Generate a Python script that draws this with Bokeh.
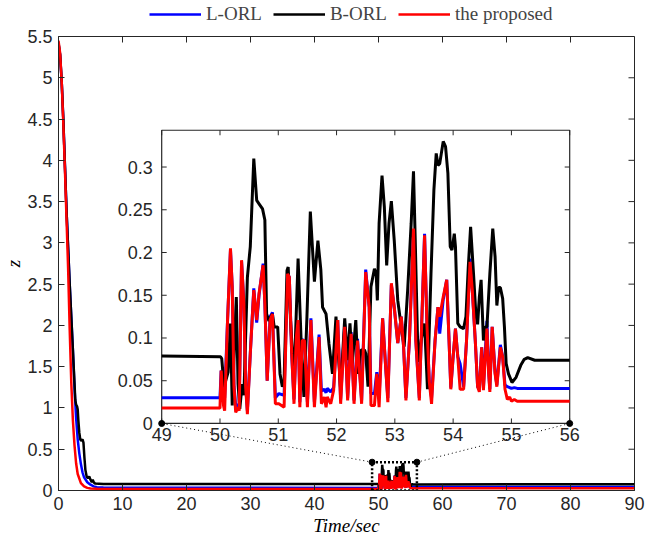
import numpy as np
from bokeh.plotting import figure
from bokeh.layouts import column
from bokeh.models import Range1d, FixedTicker, Legend, LegendItem
from bokeh.core.properties import value
from bokeh.embed import file_html
from bokeh.resources import INLINE

# ---------------- data ----------------
SERIES_LABELS = ["L-ORL", "B-ORL", "the proposed"]
SERIES_COLORS = ["#0000ff", "#000000", "#ff0000"]

X_TICKS = [0, 10, 20, 30, 40, 50, 60, 70, 80, 90]
X_TICK_LABELS = ["0", "10", "20", "30", "40", "50", "60", "70", "80", "90"]
Y_TICKS = [0, 0.5, 1, 1.5, 2, 2.5, 3, 3.5, 4, 4.5, 5, 5.5]
Y_TICK_LABELS = ["0", "0.5", "1", "1.5", "2", "2.5", "3", "3.5", "4", "4.5", "5", "5.5"]
INSET_X_TICKS = [49, 50, 51, 52, 53, 54, 55, 56]
INSET_X_TICK_LABELS = ["49", "50", "51", "52", "53", "54", "55", "56"]
INSET_Y_TICKS = [0, 0.05, 0.1, 0.15, 0.2, 0.25, 0.3]
INSET_Y_TICK_LABELS = ["0", "0.05", "0.1", "0.15", "0.2", "0.25", "0.3"]

# transient part (t < 7)
RED_T_TR = [0, 0.25, 0.5, 0.75, 1.0, 1.25, 1.5, 1.75, 2.0, 2.25, 2.5, 2.75, 3.0, 3.5, 4.0, 4.5, 5.0, 6.0]
RED_Z_TR = [5.45, 5.3, 4.95, 4.45, 3.9, 3.3, 2.7, 1.95, 1.3, 0.85, 0.55, 0.33, 0.2, 0.09, 0.05, 0.032, 0.024, 0.02]

BLUE_T_TR = [0, 0.25, 0.5, 0.75, 1.0, 1.25, 1.5, 1.75, 2.0, 2.25, 2.5, 2.75, 3.0, 3.25, 3.5, 3.75,
             4.0, 4.5, 5.0, 5.5, 6.0, 7.0]
BLUE_Z_TR = [5.42, 5.28, 4.95, 4.5, 3.95, 3.4, 2.95, 2.5, 2.1, 1.7, 1.25, 0.88, 0.62, 0.45, 0.32, 0.22,
             0.16, 0.1, 0.07, 0.05, 0.04, 0.035]

BLACK_T_TR = [0, 0.25, 0.5, 0.75, 1.0, 1.25, 1.5, 1.75, 2.0, 2.25, 2.5, 2.62, 2.75, 2.9, 3.0, 3.1,
              3.25, 3.4, 3.55, 3.75, 3.9, 4.05, 4.2, 4.4, 4.6, 4.8, 5.0, 5.2, 5.35, 5.5, 5.7, 7.0]
BLACK_Z_TR = [5.42, 5.28, 4.95, 4.5, 3.95, 3.4, 2.95, 2.5, 2.1, 1.7, 1.3, 1.1, 1.04, 1.02, 0.98, 0.85,
              0.7, 0.62, 0.6, 0.62, 0.58, 0.4, 0.25, 0.17, 0.15, 0.17, 0.13, 0.1, 0.13, 0.1, 0.085, 0.08]

# zoomed window 49..56 (red and blue share time stamps)
WIN_T = [49.00, 50.00, 50.02, 50.06, 50.08, 50.13, 50.18, 50.21, 50.24, 50.27, 50.31, 50.33, 50.37,
         50.41, 50.44, 50.47, 50.52, 50.58, 50.63, 50.67, 50.74, 50.77, 50.81, 50.86, 50.90, 50.95,
         51.01, 51.10, 51.16, 51.19, 51.23, 51.27, 51.31, 51.34, 51.37, 51.41, 51.45, 51.50, 51.56,
         51.62, 51.70, 51.74, 51.79, 51.82, 51.84, 51.90, 51.95, 52.02, 52.07, 52.14, 52.19, 52.25,
         52.30, 52.36, 52.43, 52.50, 52.56, 52.59, 52.65, 52.69, 52.73, 52.79, 52.85, 52.88, 52.94,
         52.99, 53.05, 53.11, 53.15, 53.19, 53.25, 53.32, 53.36, 53.42, 53.47, 53.51, 53.55, 53.59,
         53.63, 53.69, 53.74, 53.77, 53.83, 53.89, 53.93, 53.96, 54.00, 54.04, 54.08, 54.12, 54.18,
         54.23, 54.29, 54.33, 54.38, 54.42, 54.45, 54.49, 54.52, 54.58, 54.61, 54.63, 54.67, 54.72,
         54.75, 54.81, 54.85, 54.89, 54.93, 54.97, 55.00, 55.05, 55.10, 56.00]
RED_Z_WIN = [0.018, 0.018, 0.062, 0.021, 0.015, 0.121, 0.205, 0.160, 0.043, 0.013, 0.019, 0.015, 0.191,
             0.140, 0.043, 0.011, 0.082, 0.156, 0.121, 0.152, 0.185, 0.140, 0.050, 0.121, 0.128, 0.023,
             0.023, 0.019, 0.175, 0.171, 0.082, 0.023, 0.101, 0.121, 0.019, 0.097, 0.097, 0.019, 0.121,
             0.019, 0.101, 0.023, 0.031, 0.019, 0.031, 0.023, 0.039, 0.121, 0.023, 0.113, 0.027, 0.105,
             0.023, 0.097, 0.023, 0.177, 0.136, 0.021, 0.021, 0.058, 0.019, 0.123, 0.058, 0.025, 0.164,
             0.136, 0.094, 0.125, 0.090, 0.027, 0.097, 0.228, 0.097, 0.027, 0.136, 0.220, 0.117, 0.050,
             0.023, 0.097, 0.136, 0.125, 0.148, 0.168, 0.097, 0.040, 0.078, 0.111, 0.078, 0.040, 0.040,
             0.097, 0.189, 0.155, 0.097, 0.043, 0.037, 0.089, 0.039, 0.111, 0.058, 0.037, 0.113, 0.058,
             0.043, 0.089, 0.078, 0.040, 0.028, 0.031, 0.026, 0.028, 0.026, 0.026]
BLUE_Z_WIN = [0.030, 0.030, 0.062, 0.031, 0.030, 0.121, 0.203, 0.160, 0.045, 0.020, 0.022, 0.020, 0.190,
              0.140, 0.045, 0.015, 0.082, 0.158, 0.118, 0.150, 0.187, 0.140, 0.050, 0.125, 0.130, 0.030,
              0.035, 0.033, 0.175, 0.171, 0.082, 0.028, 0.100, 0.121, 0.025, 0.098, 0.097, 0.025, 0.123,
              0.025, 0.104, 0.038, 0.040, 0.036, 0.041, 0.037, 0.042, 0.121, 0.028, 0.116, 0.030, 0.107,
              0.027, 0.099, 0.027, 0.180, 0.136, 0.035, 0.035, 0.060, 0.030, 0.123, 0.058, 0.030, 0.162,
              0.136, 0.094, 0.125, 0.090, 0.030, 0.097, 0.226, 0.097, 0.030, 0.136, 0.222, 0.117, 0.050,
              0.030, 0.097, 0.136, 0.105, 0.145, 0.168, 0.097, 0.042, 0.078, 0.111, 0.078, 0.070, 0.043,
              0.097, 0.193, 0.155, 0.097, 0.043, 0.040, 0.089, 0.042, 0.120, 0.060, 0.040, 0.113, 0.060,
              0.045, 0.092, 0.078, 0.045, 0.043, 0.042, 0.041, 0.042, 0.041, 0.041]

BLACK_T_WIN = [49.00, 50.01, 50.03, 50.07, 50.14, 50.18, 50.21, 50.28, 50.31, 50.34, 50.38, 50.41, 50.47,
               50.52, 50.58, 50.63, 50.67, 50.73, 50.77, 50.80, 50.84, 50.90, 50.93, 50.99, 51.03, 51.07,
               51.10, 51.15, 51.17, 51.21, 51.27, 51.34, 51.40, 51.44, 51.49, 51.55, 51.62, 51.68, 51.73,
               51.76, 51.82, 51.87, 51.93, 51.99, 52.03, 52.07, 52.14, 52.19, 52.23, 52.27, 52.33, 52.37,
               52.42, 52.48, 52.50, 52.54, 52.59, 52.65, 52.68, 52.70, 52.73, 52.78, 52.82, 52.86, 52.90,
               52.94, 52.99, 53.05, 53.11, 53.16, 53.22, 53.28, 53.32, 53.35, 53.39, 53.42, 53.45, 53.51,
               53.56, 53.62, 53.67, 53.71, 53.74, 53.77, 53.83, 53.87, 53.91, 53.95, 53.98, 54.02, 54.04,
               54.08, 54.12, 54.18, 54.22, 54.26, 54.30, 54.35, 54.39, 54.42, 54.45, 54.48, 54.52, 54.55,
               54.58, 54.63, 54.68, 54.72, 54.75, 54.78, 54.81, 54.85, 54.88, 54.91, 54.95, 55.01, 55.08,
               55.16, 55.22, 55.28, 55.40, 56.00]
BLACK_Z_WIN = [0.079, 0.078, 0.076, 0.043, 0.060, 0.117, 0.021, 0.148, 0.046, 0.017, 0.046, 0.033, 0.171,
               0.207, 0.310, 0.261, 0.257, 0.251, 0.238, 0.128, 0.120, 0.128, 0.113, 0.113, 0.058, 0.043,
               0.050, 0.179, 0.183, 0.121, 0.050, 0.193, 0.082, 0.031, 0.121, 0.248, 0.166, 0.214, 0.180,
               0.136, 0.128, 0.093, 0.058, 0.125, 0.082, 0.039, 0.123, 0.074, 0.117, 0.070, 0.121, 0.058,
               0.086, 0.086, 0.082, 0.043, 0.160, 0.181, 0.175, 0.144, 0.234, 0.290, 0.253, 0.185, 0.234,
               0.260, 0.214, 0.144, 0.113, 0.090, 0.156, 0.234, 0.295, 0.214, 0.097, 0.072, 0.097, 0.117,
               0.040, 0.175, 0.273, 0.316, 0.302, 0.304, 0.330, 0.324, 0.293, 0.207, 0.203, 0.222, 0.207,
               0.117, 0.113, 0.111, 0.125, 0.183, 0.230, 0.175, 0.128, 0.116, 0.148, 0.168, 0.097, 0.113,
               0.113, 0.175, 0.228, 0.195, 0.138, 0.159, 0.159, 0.146, 0.113, 0.070, 0.058, 0.048, 0.054,
               0.068, 0.075, 0.077, 0.074, 0.074]

T_END = [90.0]
RED_Z_END = [0.026]
BLUE_Z_END = [0.041]
BLACK_Z_END = [0.075]

# ---------------- layout constants ----------------
MAIN_XLIM = (0, 90)
MAIN_YLIM = (0, 5.5)
INSET_XLIM = (49, 56)
INSET_YLIM = (0, 0.343)
INSET_BOX_X = (16.125, 79.875)   # inset frame position expressed in main x units
INSET_BOX_Y = (0.812, 4.364)     # inset frame position expressed in main y units

AX = "#262626"
TICK_FONT = "Liberation Sans"
SERIF = "Liberation Serif"

red_t = RED_T_TR + WIN_T + T_END
red_z = RED_Z_TR + RED_Z_WIN + RED_Z_END
blue_t = BLUE_T_TR + WIN_T + T_END
blue_z = BLUE_Z_TR + BLUE_Z_WIN + BLUE_Z_END
black_t = BLACK_T_TR + BLACK_T_WIN + T_END
black_z = BLACK_Z_TR + BLACK_Z_WIN + BLACK_Z_END
series = [(blue_t, blue_z), (black_t, black_z), (red_t, red_z)]

# ---------------- legend strip (legend proxies lie outside its view range) ----------------
lg = figure(width=645, height=25, output_backend="svg", toolbar_location=None,
            x_range=Range1d(-2, -1), y_range=Range1d(0, 1),
            x_axis_location=None, y_axis_location=None,
            min_border_left=0, min_border_right=0, min_border_top=0, min_border_bottom=0)
lg.grid.visible = False
lg.outline_line_color = None
lg_renderers = [lg.line(ts, zs, line_color=c, line_width=2.5) for (ts, zs), c in zip(series, SERIES_COLORS)]
legend = Legend(items=[LegendItem(label=lab, renderers=[r]) for lab, r in zip(SERIES_LABELS, lg_renderers)],
                orientation="horizontal", location=(91, 0),
                label_text_font=SERIF, label_text_font_size="19px",
                glyph_width=52, glyph_height=18, label_standoff=5, spacing=11,
                padding=1, margin=0, border_line_color=None, background_fill_alpha=0)
lg.add_layout(legend, "center")

# ---------------- main plot ----------------
p = figure(width=645, height=516, output_backend="svg", toolbar_location=None,
           x_range=Range1d(*MAIN_XLIM), y_range=Range1d(*MAIN_YLIM),
           min_border_left=58, min_border_right=11, min_border_top=11, min_border_bottom=51)
p.background_fill_color = "white"
p.border_fill_color = "white"
p.outline_line_color = AX
p.outline_line_width = 1
p.xgrid.visible = False
p.ygrid.visible = False

# inset ranges mapped onto the inset box
sx = (INSET_XLIM[1] - INSET_XLIM[0]) / (INSET_BOX_X[1] - INSET_BOX_X[0])
sy = (INSET_YLIM[1] - INSET_YLIM[0]) / (INSET_BOX_Y[1] - INSET_BOX_Y[0])
p.extra_x_ranges = {"ix": Range1d(INSET_XLIM[0] - (INSET_BOX_X[0] - MAIN_XLIM[0]) * sx,
                                  INSET_XLIM[1] + (MAIN_XLIM[1] - INSET_BOX_X[1]) * sx)}
p.extra_y_ranges = {"iy": Range1d(INSET_YLIM[0] - (INSET_BOX_Y[0] - MAIN_YLIM[0]) * sy,
                                  INSET_YLIM[1] + (MAIN_YLIM[1] - INSET_BOX_Y[1]) * sy)}

def style_axis(ax, ticks, labels):
    ax.ticker = FixedTicker(ticks=ticks)
    ax.major_label_overrides = {t: l for t, l in zip(ticks, labels)}
    ax.major_tick_in = 6
    ax.major_tick_out = 0
    ax.minor_tick_line_color = None
    ax.major_tick_line_color = AX
    ax.axis_line_color = AX
    ax.major_label_text_font = TICK_FONT
    ax.major_label_text_color = AX
    ax.major_label_text_font_size = "18px"
    ax.major_label_standoff = 6
    ax.axis_label_text_font = SERIF
    ax.axis_label_text_font_style = "italic"
    ax.axis_label_text_font_size = "19px"
    ax.axis_label_text_color = "#000000"

style_axis(p.xaxis[0], X_TICKS, X_TICK_LABELS)
style_axis(p.yaxis[0], Y_TICKS, Y_TICK_LABELS)
p.xaxis.axis_label = "Time/sec"
p.yaxis.axis_label = "z"
p.xaxis.axis_label_standoff = 2
p.yaxis.axis_label_standoff = 0

# mirrored ticks on top and right edges of the main box
nxt = len(X_TICKS)
nyt = len(Y_TICKS)
p.ray(x=X_TICKS, y=[MAIN_YLIM[1]] * nxt, length=6, length_units="screen", angle=-np.pi / 2,
      line_color=AX, line_width=1)
p.ray(x=[MAIN_XLIM[1]] * nyt, y=Y_TICKS, length=6, length_units="screen", angle=np.pi,
      line_color=AX, line_width=1)

# main curves
for (ts, zs), c in zip(series, SERIES_COLORS):
    p.line(ts, zs, line_color=c, line_width=2.5)

# zoom box on main plot
bx = [INSET_XLIM[0], INSET_XLIM[1], INSET_XLIM[1], INSET_XLIM[0], INSET_XLIM[0]]
by = [INSET_YLIM[0], INSET_YLIM[0], INSET_YLIM[1], INSET_YLIM[1], INSET_YLIM[0]]
p.line(bx, by, line_color="black", line_width=2.5, line_dash="2 2")
p.scatter([INSET_XLIM[0], INSET_XLIM[1]], [INSET_YLIM[1], INSET_YLIM[1]], size=6, color="black")
# connectors to inset bottom corners
p.segment(x0=[INSET_XLIM[0], INSET_XLIM[1]], y0=[INSET_YLIM[1], INSET_YLIM[1]],
          x1=[INSET_BOX_X[0], INSET_BOX_X[1]], y1=[INSET_BOX_Y[0], INSET_BOX_Y[0]],
          line_color="black", line_width=1, line_dash="1 3")

# ----- inset -----
kw = dict(x_range_name="ix", y_range_name="iy")
p.quad(left=[INSET_XLIM[0]], right=[INSET_XLIM[1]], bottom=[INSET_YLIM[0]], top=[INSET_YLIM[1]],
       fill_color="white", line_color=AX, line_width=1.2, **kw)

def window(ts, zs):
    pts = [(t, z) for t, z in zip(ts, zs) if INSET_XLIM[0] <= t <= INSET_XLIM[1]]
    return [a for a, _ in pts], [b for _, b in pts]

for (ts, zs), c in zip(series, SERIES_COLORS):
    wt, wz = window(ts, zs)
    p.line(wt, wz, line_color=c, line_width=3, **kw)

n_x = len(INSET_X_TICKS)
n_y = len(INSET_Y_TICKS)
p.ray(x=INSET_X_TICKS, y=[INSET_YLIM[0]] * n_x, length=5, length_units="screen", angle=np.pi / 2,
      line_color=AX, line_width=1, **kw)
p.ray(x=INSET_X_TICKS, y=[INSET_YLIM[1]] * n_x, length=5, length_units="screen", angle=-np.pi / 2,
      line_color=AX, line_width=1, **kw)
p.ray(x=[INSET_XLIM[0]] * n_y, y=INSET_Y_TICKS, length=5, length_units="screen", angle=0,
      line_color=AX, line_width=1, **kw)
p.ray(x=[INSET_XLIM[1]] * n_y, y=INSET_Y_TICKS, length=5, length_units="screen", angle=np.pi,
      line_color=AX, line_width=1, **kw)
p.text(x=INSET_X_TICKS, y=[INSET_YLIM[0]] * n_x, text=INSET_X_TICK_LABELS,
       text_font=value(TICK_FONT), text_font_size=value("18px"), text_color=AX,
       text_align="center", text_baseline="top", y_offset=5, **kw)
p.text(x=[INSET_XLIM[0]] * n_y, y=INSET_Y_TICKS, text=INSET_Y_TICK_LABELS,
       text_font=value(TICK_FONT), text_font_size=value("18px"), text_color=AX,
       text_align="right", text_baseline="middle", x_offset=-9, **kw)
p.scatter([INSET_XLIM[0], INSET_XLIM[1]], [INSET_YLIM[0], INSET_YLIM[0]], size=6, color="black", **kw)

layout = column(lg, p, spacing=0)
open("out.html", "w").write(file_html(layout, INLINE))
